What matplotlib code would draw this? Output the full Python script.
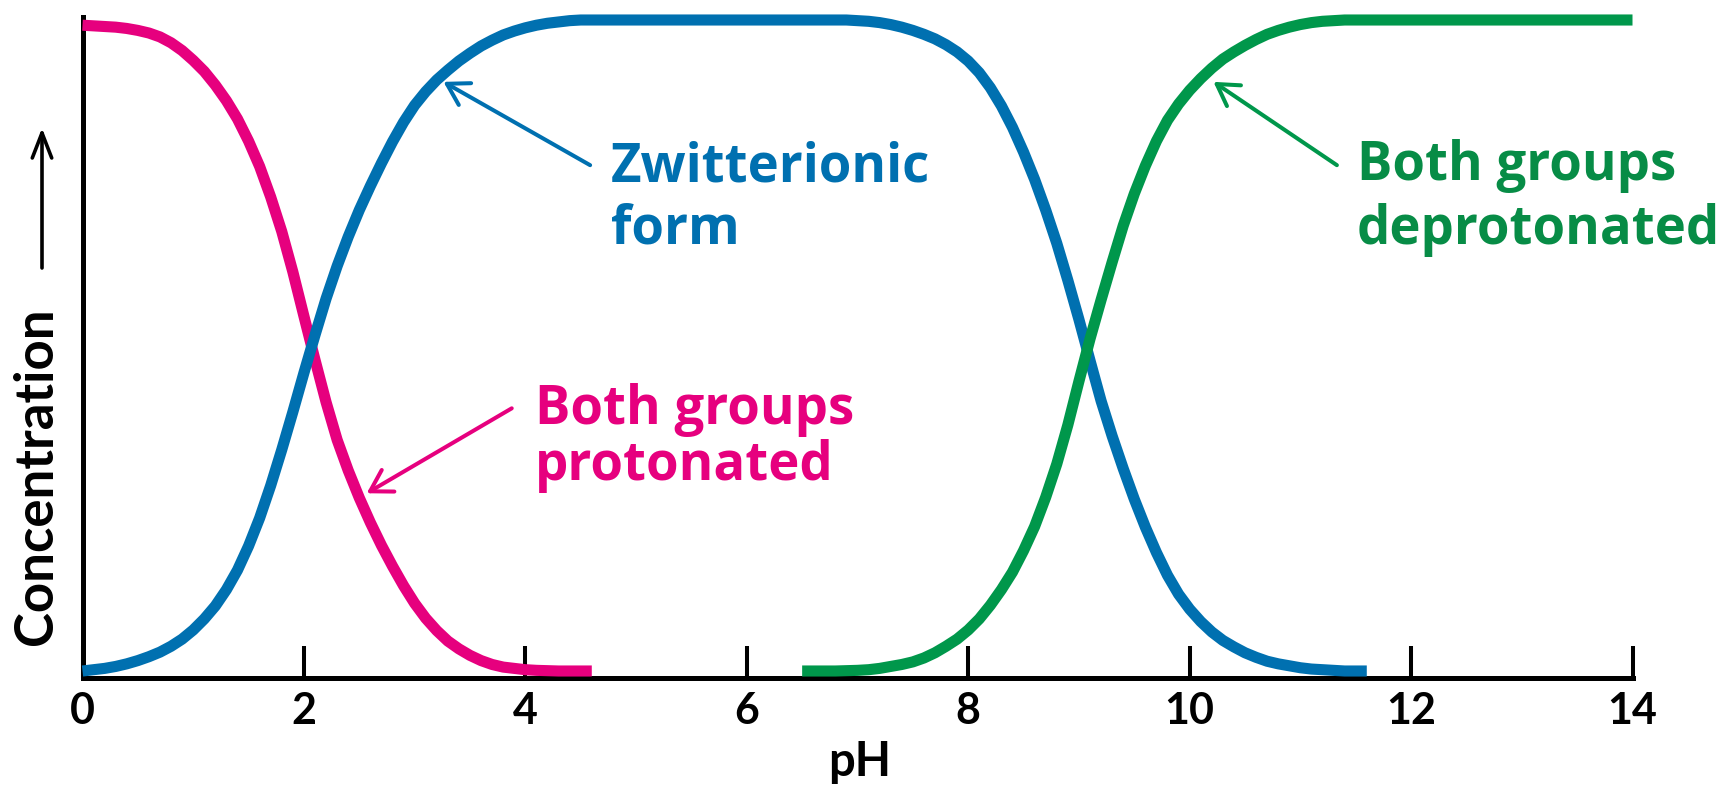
import matplotlib
matplotlib.use("Agg")
import matplotlib.pyplot as plt

# ---------------- data ----------------
ph_pink = [0.0, 0.1, 0.2, 0.3, 0.4, 0.5, 0.6, 0.7, 0.8, 0.9, 1.0, 1.1, 1.2,
           1.3, 1.4, 1.5, 1.6, 1.7, 1.8, 1.9, 2.0, 2.1, 2.2, 2.3, 2.4, 2.5,
           2.6, 2.7, 2.8, 2.9, 3.0, 3.1, 3.2, 3.3, 3.4, 3.5, 3.6, 3.7, 3.8,
           3.9, 4.0, 4.1, 4.2, 4.3, 4.4, 4.5, 4.6]
conc_pink = [0.992, 0.991, 0.990, 0.989, 0.987, 0.984, 0.980, 0.974, 0.965,
             0.953, 0.938, 0.921, 0.900, 0.876, 0.848, 0.814, 0.775, 0.728,
             0.675, 0.613, 0.545, 0.478, 0.413, 0.355, 0.308, 0.266, 0.228,
             0.193, 0.161, 0.131, 0.104, 0.081, 0.062, 0.046, 0.034, 0.024,
             0.016, 0.010, 0.006, 0.004, 0.002, 0.001, 0.0005, 0.0, 0.0,
             0.0, 0.0]

ph_blue = [0.0, 0.1, 0.2, 0.3, 0.4, 0.5, 0.6, 0.7, 0.8, 0.9, 1.0, 1.1, 1.2,
           1.3, 1.4, 1.5, 1.6, 1.7, 1.8, 1.9, 2.0, 2.1, 2.2, 2.3, 2.4, 2.5,
           2.6, 2.7, 2.8, 2.9, 3.0, 3.1, 3.2, 3.3, 3.4, 3.5, 3.6, 3.7, 3.8,
           3.9, 4.0, 4.1, 4.2, 4.3, 4.4, 4.5, 4.6, 5.0, 6.0,
           6.8, 6.9, 7.0, 7.1, 7.2, 7.3, 7.4, 7.5, 7.6, 7.7, 7.8, 7.9, 8.0,
           8.1, 8.2, 8.3, 8.4, 8.5, 8.6, 8.7, 8.8, 8.9, 9.0, 9.1, 9.2, 9.3,
           9.4, 9.5, 9.6, 9.7, 9.8, 9.9, 10.0, 10.1, 10.2, 10.3, 10.4, 10.5,
           10.6, 10.7, 10.8, 10.9, 11.0, 11.1, 11.2, 11.3, 11.4, 11.5, 11.6]
conc_blue = [0.000, 0.002, 0.004, 0.007, 0.011, 0.016, 0.022, 0.029, 0.038,
             0.049, 0.063, 0.080, 0.100, 0.125, 0.155, 0.192, 0.235, 0.285,
             0.340, 0.398, 0.458, 0.516, 0.572, 0.622, 0.667, 0.708, 0.745,
             0.780, 0.813, 0.843, 0.869, 0.890, 0.908, 0.923, 0.937, 0.949,
             0.960, 0.969, 0.977, 0.983, 0.988, 0.992, 0.995, 0.997, 0.999,
             1.0, 1.0, 1.0, 1.0,
             1.0, 1.0, 0.999, 0.998, 0.996, 0.993, 0.989, 0.984, 0.978,
             0.971, 0.962, 0.951, 0.937, 0.919, 0.896, 0.868, 0.835, 0.797,
             0.755, 0.708, 0.657, 0.600, 0.540, 0.477, 0.415, 0.361, 0.311,
             0.264, 0.221, 0.182, 0.147, 0.118, 0.095, 0.076, 0.060, 0.047,
             0.037, 0.028, 0.021, 0.015, 0.011, 0.008, 0.005, 0.003, 0.002,
             0.001, 0.0, 0.0, 0.0]

ph_green = [6.5, 6.6, 6.7, 6.8, 6.9, 7.0, 7.1, 7.2, 7.3, 7.4, 7.5, 7.6, 7.7,
            7.8, 7.9, 8.0, 8.1, 8.2, 8.3, 8.4, 8.5, 8.6, 8.7, 8.8, 8.9, 9.0,
            9.1, 9.2, 9.3, 9.4, 9.5, 9.6, 9.7, 9.8, 9.9, 10.0, 10.1, 10.2,
            10.3, 10.4, 10.5, 10.6, 10.7, 10.8, 10.9, 11.0, 11.1, 11.2, 11.3,
            11.4, 12.0, 13.0, 14.0]
conc_green = [0.0, 0.0, 0.0, 0.0, 0.0005, 0.001, 0.002, 0.004, 0.007, 0.010,
              0.014, 0.020, 0.028, 0.038, 0.049, 0.063, 0.080, 0.101, 0.125,
              0.152, 0.185, 0.222, 0.267, 0.318, 0.378, 0.445, 0.510, 0.570,
              0.628, 0.684, 0.733, 0.776, 0.814, 0.846, 0.871, 0.892, 0.910,
              0.926, 0.940, 0.951, 0.961, 0.970, 0.978, 0.984, 0.989, 0.993,
              0.996, 0.998, 0.999, 1.0, 1.0, 1.0, 1.0]

x_ticks = [0, 2, 4, 6, 8, 10, 12, 14]
x_tick_labels = ["0", "2", "4", "6", "8", "10", "12", "14"]

label_zwitter = ["Zwitterionic", "form"]
label_prot = ["Both groups", "protonated"]
label_deprot = ["Both groups", "deprotonated"]

# ---------------- style ----------------
PINK = "#E6007E"
BLUE = "#0070B0"
GREEN = "#00974B"
GREEN_TXT = "#078C46"
FONT = ["Lato", "DejaVu Sans"]
ANNO_FONT = ["Open Sans", "DejaVu Sans"]
plt.rcParams["font.family"] = FONT
plt.rcParams["font.weight"] = "bold"

W, H = 1729, 799
fig = plt.figure(figsize=(W / 100, H / 100), dpi=100)
x0_px, x14_px = 82.5, 1632.5
ax_bottom_px, ax_top_px = 678, 17
ax = fig.add_axes([x0_px / W, (H - ax_bottom_px) / H,
                   (x14_px - x0_px) / W, (ax_bottom_px - ax_top_px) / H])
ax.set_xlim(0, 14)
ax.set_ylim(-7 / 651, 1 + 3 / 651)

lw = 8.0
for xs, ys, c, z in [(ph_pink, conc_pink, PINK, 3),
                     (ph_blue, conc_blue, BLUE, 4),
                     (ph_green, conc_green, GREEN, 5)]:
    ax.plot(xs, ys, color=c, lw=lw, solid_capstyle="butt",
            solid_joinstyle="round", clip_on=False, zorder=z)

for s in ["top", "right"]:
    ax.spines[s].set_visible(False)
for s in ["left", "bottom"]:
    ax.spines[s].set_linewidth(3.6)
    ax.spines[s].set_color("black")
    ax.spines[s].set_capstyle("projecting")
    ax.spines[s].set_zorder(2)

ax.set_yticks([])
ax.set_xticks(x_ticks)
ax.set_xticklabels(x_tick_labels, fontsize=31, fontweight="bold")
ax.tick_params(axis="x", direction="in", length=23, width=2.9, pad=9,
               color="black")


def px(x, y):
    return x / W, 1 - y / H


# axis labels
fig.text(*px(860, 776), "pH", fontsize=34, fontweight="bold",
         ha="center", va="baseline")
fig.text(*px(37, 645), "Concentration", fontsize=38, fontweight="bold",
         rotation=90, ha="center", va="bottom")
ax.annotate("", xy=px(42, 128), xytext=px(42, 268),
            xycoords="figure fraction", textcoords="figure fraction",
            arrowprops=dict(arrowstyle="->,head_length=0.9,head_width=0.35",
                            lw=2.6, color="black", mutation_scale=20,
                            shrinkA=0, shrinkB=0))

# curve labels
TS = 38
for i, t in enumerate(label_zwitter):
    fig.text(*px(611, 182 + 62 * i), t, color=BLUE, fontsize=TS,
             fontweight="bold", family=ANNO_FONT, ha="left", va="baseline")
for i, t in enumerate(label_prot):
    fig.text(*px(535, 424 + 56 * i), t, color=PINK, fontsize=TS,
             fontweight="bold", family=ANNO_FONT, ha="left", va="baseline")
for i, t in enumerate(label_deprot):
    fig.text(*px(1357, 180 + 64 * i), t, color=GREEN_TXT, fontsize=TS,
             fontweight="bold", family=ANNO_FONT, ha="left", va="baseline")

arrow_kw = dict(arrowstyle="->,head_length=0.75,head_width=0.45", lw=2.9,
                mutation_scale=20, shrinkA=0, shrinkB=0)
ax.annotate("", xy=(3.26, 0.905), xytext=(4.585, 0.777),
            arrowprops=dict(color=BLUE, **arrow_kw), annotation_clip=False)
ax.annotate("", xy=(2.567, 0.273), xytext=(3.877, 0.4035),
            arrowprops=dict(color=PINK, **arrow_kw), annotation_clip=False)
ax.annotate("", xy=(10.215, 0.905), xytext=(11.33, 0.777),
            arrowprops=dict(color=GREEN, **arrow_kw), annotation_clip=False)

fig.savefig("out.png", dpi=100, facecolor="white")
